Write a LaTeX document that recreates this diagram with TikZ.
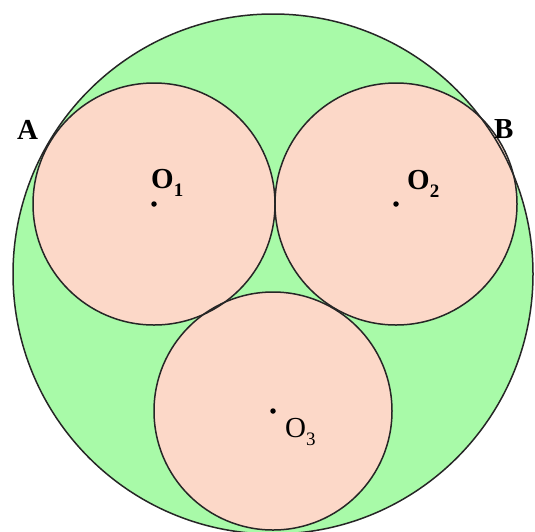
\documentclass[tikz,border=0pt]{standalone}
\usepackage{fontspec}
\setmainfont{Liberation Serif}
\definecolor{bigfill}{RGB}{168,250,168}
\definecolor{smallfill}{RGB}{252,216,200}
\newcommand\sublab[1]{\raisebox{-0.28em}{\fontsize{19}{19}\selectfont #1}}
\begin{document}
\begin{tikzpicture}[x=1pt,y=-1pt,
  ring/.style={line width=1.5pt,draw=black!85},
  ctr/.style={circle,fill=black,inner sep=0pt,minimum size=5.5pt},
  lbl/.style={anchor=base west,inner sep=0pt,font=\bfseries\fontsize{29}{29}\selectfont},
  lblr/.style={anchor=base west,inner sep=0pt,font=\fontsize{29}{29}\selectfont}]
\useasboundingbox (0,0) rectangle (535,531);
\coordinate (C) at (273,274);
\node[ctr] (o1) at (154,204) {};
\node[ctr] (o2) at (396,204) {};
\node[ctr] (o3) at (273,411) {};
% fills
\fill[bigfill] (C) circle[radius=260];
\fill[smallfill] (o1.center) circle[radius=121];
\fill[smallfill] (o2.center) circle[radius=121];
\fill[smallfill] (o3.center) circle[radius=119];
% outlines
\draw[ring] (C) circle[radius=260];
\draw[ring] (o1.center) circle[radius=121];
\draw[ring] (o2.center) circle[radius=121];
\draw[ring] (o3.center) circle[radius=119];
\node[ctr] at (o1) {};
\node[ctr] at (o2) {};
\node[ctr] at (o3) {};
% labels
\node[lbl] (la) at (17,139) {A};
\node[lbl] (lb) at (494,138) {B};
\node[lbl] (l1) at (151,188) {O\sublab{1}};
\node[lbl] (l2) at (407,189) {O\sublab{2}};
\node[lblr] (l3) at (285,437) {O\sublab{3}};
\end{tikzpicture}
\end{document}
